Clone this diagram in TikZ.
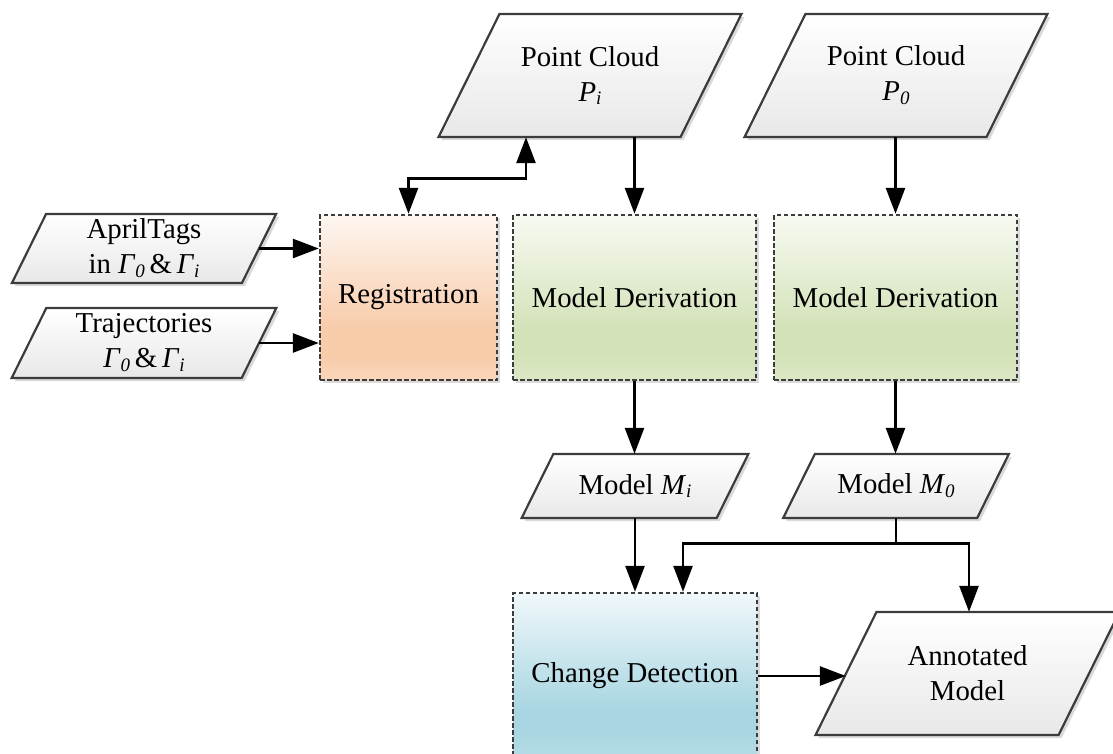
\documentclass[tikz,border=0pt]{standalone}
\usepackage{fontspec}
\setmainfont{Liberation Serif}
\usetikzlibrary{arrows.meta,calc}

\definecolor{edgegray}{HTML}{3C3C3C}
\definecolor{shadowgray}{HTML}{DADADA}
\definecolor{regT}{HTML}{FEF7F1}
\definecolor{regM}{HTML}{F8CBA9}
\definecolor{regB}{HTML}{FAD6BB}
\definecolor{greT}{HTML}{F7FAF2}
\definecolor{greM}{HTML}{D3E2B8}
\definecolor{greB}{HTML}{DCE8C6}
\definecolor{bluT}{HTML}{F0F8FB}
\definecolor{bluM}{HTML}{A9D6E2}
\definecolor{bluB}{HTML}{B6DDE7}

% vertical fills: light top, deepest tone near the bottom
\pgfdeclareverticalshading{regshade}{100bp}{color(0bp)=(regB); color(25bp)=(regB); color(33bp)=(regM); color(40bp)=(regM); color(75bp)=(regT); color(100bp)=(regT)}
\pgfdeclareverticalshading{greshade}{100bp}{color(0bp)=(greB); color(25bp)=(greB); color(33bp)=(greM); color(40bp)=(greM); color(75bp)=(greT); color(100bp)=(greT)}
\pgfdeclareverticalshading{blushade}{100bp}{color(0bp)=(bluB); color(25bp)=(bluB); color(33bp)=(bluM); color(40bp)=(bluM); color(75bp)=(bluT); color(100bp)=(bluT)}

% italic subscript
\newcommand\sbs[1]{\raisebox{-0.3ex}{\fontsize{19}{19}\selectfont\itshape #1}}

\tikzset{
  txt/.style={inner sep=0pt, align=center, font=\fontsize{28.8}{35}\selectfont},
  ioline/.style={draw=edgegray, line width=2.2pt, line join=miter},
  procbox/.style={draw=edgegray, line width=2.4pt, dash pattern=on 4.5pt off 2.5pt,
    inner sep=0pt, align=center, font=\fontsize{28.8}{35}\selectfont},
  wire/.style={line width=2.7pt, black},
  flow/.style={wire, -{Triangle[length=26pt,width=19pt]}},
  flowboth/.style={wire, {Triangle[length=26pt,width=19pt]}-{Triangle[length=26pt,width=19pt]}},
}

% data shape: name, centre x, centre y, edge length, height, text
\newcommand\ioshape[6]{%
  \pgfmathsetmacro\hw{#4/2}%
  \pgfmathsetmacro\hh{#5/2}%
  \pgfmathsetmacro\hs{0.2475*#5}%
  \fill[shadowgray] (#2-\hw+\hs+3,#3-\hh+3) -- (#2+\hw+\hs+3,#3-\hh+3)
     -- (#2+\hw-\hs+3,#3+\hh+3) -- (#2-\hw-\hs+3,#3+\hh+3) -- cycle;
  \shade[ioline, top color=white, bottom color=black!9]
     (#2-\hw+\hs,#3-\hh) -- (#2+\hw+\hs,#3-\hh)
     -- (#2+\hw-\hs,#3+\hh) -- (#2-\hw-\hs,#3+\hh) -- cycle;
  \node[txt, minimum width=#4pt, minimum height=#5pt] (#1) at (#2,#3) {#6};
}

% process box: name, left, top, right, bottom, shading, text
\newcommand\procnode[7]{%
  \fill[shadowgray] (#2+3,#3+3) rectangle (#4+3,#5+3);
  \node[procbox, shading=#6, minimum width=#4-#2, minimum height=#5-#3]
    (#1) at ({(#2+#4)/2},{(#3+#5)/2}) {#7};
}

\begin{document}
\begin{tikzpicture}[x=1pt,y=-1pt]
\useasboundingbox (0,0) rectangle (1113,753);
\clip (0,0) rectangle (1113,753);

% inputs
\ioshape{pi}{590}{75.5}{242}{123}{Point Cloud\\\textit{P}\sbs{i}}
\ioshape{pz}{896}{75.5}{242}{123}{Point Cloud\\\textit{P}\sbs{0}}
\ioshape{tags}{144}{248.5}{230}{69}{AprilTags\\in \textit{Γ}\sbs{0}\,\&\,\textit{Γ}\sbs{i}}
\ioshape{traj}{144}{343}{230}{70}{Trajectories\\\textit{Γ}\sbs{0}\,\&\,\textit{Γ}\sbs{i}}

% processing steps
\procnode{reg}{320}{215}{497}{380}{regshade}{Registration}
\procnode{mdi}{513}{215}{756}{380}{greshade}{Model Derivation}
\procnode{mdz}{774}{215}{1017}{380}{greshade}{Model Derivation}
\procnode{cd}{513}{593}{757}{759}{blushade}{Change Detection}

% intermediate models and result
\ioshape{mi}{635}{486}{195}{64}{Model \textit{M}\sbs{i}}
\ioshape{mz}{896}{486}{194}{64}{Model \textit{M}\sbs{0}}
\ioshape{ann}{967.5}{673.5}{243}{123}{Annotated\\Model}

% connectors
\draw[flow] (mdi.north |- pi.south) -- (mdi.north);
\draw[flow] (mdz.north |- pz.south) -- (mdz.north);
\coordinate (regtap) at ($(pi.south)+(-64,0)$);
\draw[flowboth] (regtap) -- ++(0,41) -| (reg.north);
\draw[flow] (tags.east) -- (tags.east -| reg.west);
\draw[flow] (traj.east) -- (traj.east -| reg.west);
\draw[flow] (mdi.south) -- (mi.north -| mdi.south);
\draw[flow] (mdz.south) -- (mz.north -| mdz.south);
\draw[flow] (mi.south) -- (cd.north -| mi.south);
\coordinate (split) at ($(mz.south)+(0,25)$);
\draw[wire] (mz.south) -- (split);
\draw[flow] (split) -| ($(cd.north)+(48,0)$);
\draw[flow] (split) -| ($(ann.north)+(1.5,0)$);
\draw[flow] (cd.east) -- (cd.east -| ann.west);
\end{tikzpicture}
\end{document}
